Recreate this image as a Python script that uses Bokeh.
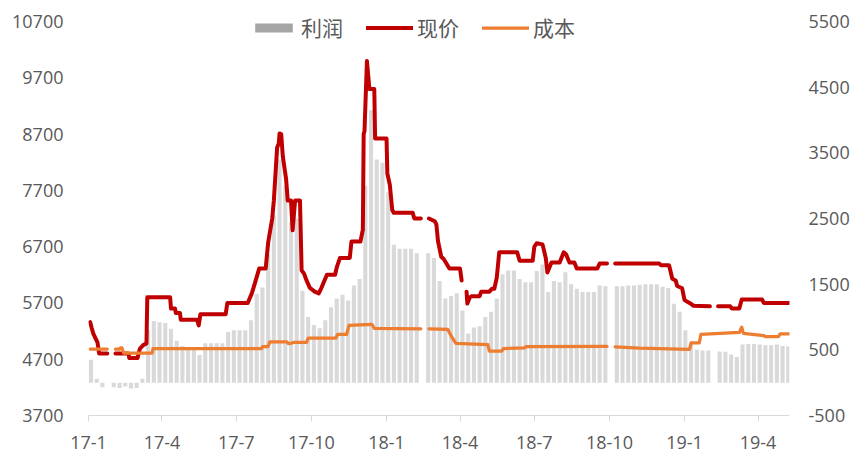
import numpy as np
import pandas as pd
from bokeh.plotting import figure
from bokeh.models import (Range1d, LinearAxis, FixedTicker, Legend, LegendItem,
                          ColumnDataSource)
from bokeh.embed import file_html
from bokeh.resources import INLINE

nan = float("nan")
ORIGIN = pd.Timestamp("2017-01-01")

# ---------------- data ----------------
tick_dates = ["2017-01-01", "2017-04-01", "2017-07-01", "2017-10-01", "2018-01-01",
              "2018-04-01", "2018-07-01", "2018-10-01", "2019-01-01", "2019-04-01"]
tick_labels = ["17-1", "17-4", "17-7", "17-10", "18-1", "18-4", "18-7", "18-10", "19-1", "19-4"]
left_ticks = [3700, 4700, 5700, 6700, 7700, 8700, 9700, 10700]
right_ticks = [-500, 500, 1500, 2500, 3500, 4500, 5500]

# 现价 (price), left axis
price_dates = [
    "2017-01-03", "2017-01-05", "2017-01-07", "2017-01-12", "2017-01-14", "2017-01-24", "2017-01-29",
    "2017-02-03", "2017-02-19", "2017-02-20", "2017-03-02", "2017-03-05", "2017-03-09", "2017-03-13",
    "2017-03-14", "2017-04-11", "2017-04-12", "2017-04-17", "2017-04-18", "2017-04-23", "2017-04-24",
    "2017-05-14", "2017-05-16", "2017-05-18", "2017-06-18", "2017-06-20", "2017-07-15", "2017-07-20",
    "2017-07-24", "2017-07-29", "2017-08-06", "2017-08-09", "2017-08-14", "2017-08-16", "2017-08-20",
    "2017-08-22", "2017-08-23", "2017-08-25", "2017-08-27", "2017-08-31", "2017-09-02", "2017-09-06",
    "2017-09-08", "2017-09-11", "2017-09-17", "2017-09-19", "2017-09-22", "2017-09-25", "2017-09-29",
    "2017-10-05", "2017-10-10", "2017-10-13", "2017-10-20", "2017-10-30", "2017-11-01", "2017-11-05",
    "2017-11-17", "2017-11-19", "2017-11-30", "2017-12-03", "2017-12-04", "2017-12-05", "2017-12-08",
    "2017-12-11", "2017-12-17", "2017-12-18", "2018-01-01", "2018-01-02", "2018-01-05", "2018-01-08",
    "2018-01-10", "2018-02-02", "2018-02-04", "2018-02-12", "2018-02-17", "2018-02-22", "2018-03-01",
    "2018-03-03", "2018-03-05", "2018-03-09", "2018-03-12", "2018-03-19", "2018-04-01", "2018-04-03",
    "2018-04-06", "2018-04-09", "2018-04-10", "2018-04-13", "2018-04-16", "2018-04-25", "2018-04-27",
    "2018-05-07", "2018-05-10", "2018-05-13", "2018-05-16", "2018-05-19", "2018-06-10", "2018-06-13",
    "2018-06-29", "2018-07-01", "2018-07-04", "2018-07-11", "2018-07-15", "2018-07-17", "2018-07-22",
    "2018-08-01", "2018-08-06", "2018-08-09", "2018-08-13", "2018-08-19", "2018-08-22", "2018-09-16",
    "2018-09-19", "2018-09-28", "2018-10-03", "2018-10-08", "2018-12-01", "2018-12-03", "2018-12-13",
    "2018-12-17", "2018-12-21", "2018-12-23", "2018-12-29", "2019-01-01", "2019-01-07", "2019-01-12",
    "2019-02-01", "2019-02-06", "2019-02-11", "2019-02-26", "2019-02-28", "2019-03-09", "2019-03-12",
    "2019-04-06", "2019-04-08", "2019-05-09"]
price_values = [
    5360, 5250, 5150, 5000, 4800, 4800, nan,
    4800, 4800, 4720, 4720, 4890, 4950, 4980,
    5800, 5800, 5600, 5600, 5520, 5520, 5400,
    5400, 5300, 5500, 5500, 5700, 5700, 5870,
    6060, 6310, 6310, 6770, 7200, 7520, 8460,
    8530, 8710, 8700, 8300, 7900, 7520, 7520,
    6990, 7520, 7520, 6280, 6220, 6100, 5970,
    5900, 5870, 5960, 6200, 6200, 6330, 6500,
    6500, 6790, 6790, 7000, 8700, 8750, 10000,
    9500, 9500, 8620, 8620, 8000, 7800, 7350,
    7300, 7300, 7200, 7200, nan, 7200, 7150,
    7100, 6800, 6520, 6480, 6310, 6310, 6100,
    nan, 5900, 5690, 5800, 5820, 5820, 5900,
    5900, 5950, 5950, 6150, 6600, 6600, 6450,
    6450, 6700, 6760, 6740, 6500, 6240, 6420,
    6420, 6600, 6560, 6420, 6420, 6310, 6310,
    6400, 6400, nan, 6400, 6400, 6370, 6370,
    6130, 6100, 6000, 5960, 5750, 5700, 5650,
    5640, nan, 5640, 5640, 5600, 5600, 5760,
    5760, 5700, 5700]

# 成本 (cost), left axis
cost_dates = [
    "2017-01-03", "2017-01-24", "2017-01-29", "2017-02-03", "2017-02-08", "2017-02-09", "2017-02-11",
    "2017-02-13", "2017-03-20", "2017-03-21", "2017-08-01", "2017-08-02", "2017-08-09", "2017-08-11",
    "2017-09-01", "2017-09-03", "2017-09-07", "2017-09-09", "2017-09-25", "2017-09-27", "2017-10-31",
    "2017-11-02", "2017-11-13", "2017-11-16", "2017-12-14", "2017-12-17", "2018-02-12", "2018-02-17",
    "2018-02-22", "2018-03-17", "2018-03-22", "2018-03-27", "2018-05-05", "2018-05-07", "2018-05-22",
    "2018-05-24", "2018-06-19", "2018-06-21", "2018-09-28", "2018-10-03", "2018-10-08", "2018-11-07",
    "2019-01-07", "2019-01-09", "2019-01-19", "2019-01-21", "2019-03-09", "2019-03-12", "2019-03-14",
    "2019-04-08", "2019-04-10", "2019-04-26", "2019-04-28", "2019-05-09"]
cost_values = [
    4880, 4880, nan, 4880, 4880, 4900, 4900,
    4810, 4810, 4890, 4890, 4925, 4925, 5010,
    5010, 4975, 4985, 5000, 5000, 5075, 5075,
    5140, 5140, 5300, 5320, 5250, 5240, nan,
    5240, 5230, 5090, 4980, 4960, 4845, 4845,
    4890, 4900, 4925, 4930, nan, 4920, 4895,
    4875, 4990, 4990, 5140, 5175, 5270, 5160,
    5120, 5100, 5100, 5150, 5150]

# 利润 (profit), right axis, one value per trading week
week_start = "2017-01-04"
profit_values = [
    350, 60, -70, nan, -70, -80, -60, -90, -80, 60,
    800, 940, 920, 910, 820, 640, 560, 520, 500, 420,
    600, 600, 600, 600, 770, 800, 800, 800, 950, 1350,
    1450, 1950, 2550, 3400, 3000, 2450, 2500, 1400, 1000, 880,
    830, 950, 1150, 1280, 1340, 1250, 1480, 1580, 3000, 4150,
    3400, 3350, 2900, 2100, 2040, 2040, 2040, 1970, nan, 1970,
    1900, 1550, 1280, 1320, 1360, 1100, 750, 840, 860, 1000,
    1080, 1280, 1650, 1710, 1710, 1580, 1530, 1530, 1700, 1800,
    1380, 1550, 1530, 1680, 1500, 1430, 1380, 1380, 1380, 1480,
    1470, nan, 1470, 1470, 1480, 1480, 1490, 1500, 1500, 1500,
    1460, 1440, 1200, 1080, 800, 620, 500, 490, 490, nan,
    475, 470, 430, 390, 580, 590, 590, 580, 570, 570,
    580, 560, 550]
x_end_date = "2019-05-09"


def days(ds):
    return [float((pd.Timestamp(d) - ORIGIN).days) for d in ds]


week_dates = pd.date_range(week_start, periods=len(profit_values), freq="7D")
week_x = [float((d - ORIGIN).days) for d in week_dates]

price_src = ColumnDataSource(dict(x=days(price_dates), y=price_values))
cost_src = ColumnDataSource(dict(x=days(cost_dates), y=cost_values))
bar_src = ColumnDataSource(dict(x=week_x, top=profit_values))

tick_x = [int(v) for v in days(tick_dates)]

# ---------------- figure ----------------
FONT = "Open Sans"
TXT = "#595959"

# the plot frame reaches 13 px above the top tick so the legend is not clipped
p = figure(width=852, height=454, output_backend="svg", toolbar_location=None,
           x_range=Range1d(0, days([x_end_date])[0] + 0.5),
           y_range=Range1d(3700, 10931),
           min_border_left=88, min_border_right=61, min_border_top=8, min_border_bottom=39)
p.extra_y_ranges = {"right": Range1d(-500, 5698)}
p.outline_line_color = None
p.xgrid.visible = False
p.ygrid.visible = False
p.background_fill_color = "white"
p.border_fill_color = "white"

bars = p.vbar(x="x", top="top", bottom=0, width=5, source=bar_src, y_range_name="right",
              fill_color="#d9d9d9", line_color=None)
legend_bar = p.vbar(x=[-100], top=[0], bottom=0, width=5, y_range_name="right",
                    fill_color="#a5a5a5", line_color=None)
price_line = p.line("x", "y", source=price_src, line_color="#C00000", line_width=4,
                    line_join="round", line_cap="round")
cost_line = p.line("x", "y", source=cost_src, line_color="#ED7D31", line_width=3.25,
                   line_join="round", line_cap="round")

# x axis
xa = p.xaxis[0]
xa.ticker = FixedTicker(ticks=tick_x)
xa.major_label_overrides = {t: l for t, l in zip(tick_x, tick_labels)}
xa.axis_line_color = "#d9d9d9"
xa.major_tick_line_color = "#d9d9d9"
xa.major_tick_out = 6
xa.major_tick_in = 0
xa.minor_tick_line_color = None
xa.major_label_standoff = 14
xa.major_label_text_font = FONT
xa.major_label_text_font_size = "18px"
xa.major_label_text_color = TXT

# left axis
ya = p.yaxis[0]
ya.ticker = FixedTicker(ticks=left_ticks)
ya.axis_line_color = None
ya.major_tick_line_color = None
ya.minor_tick_line_color = None
ya.major_tick_out = 0
ya.major_label_standoff = 25
ya.major_label_text_font = FONT
ya.major_label_text_font_size = "18px"
ya.major_label_text_color = TXT

# right axis
ra = LinearAxis(y_range_name="right", ticker=FixedTicker(ticks=right_ticks))
ra.major_label_overrides = {t: str(t) for t in right_ticks}
ra.axis_line_color = None
ra.major_tick_line_color = None
ra.minor_tick_line_color = None
ra.major_tick_out = 0
ra.major_label_standoff = 19
ra.major_label_text_font = FONT
ra.major_label_text_font_size = "18px"
ra.major_label_text_color = TXT
p.add_layout(ra, "right")

legend = Legend(items=[LegendItem(label="利润", renderers=[legend_bar]),
                       LegendItem(label="现价", renderers=[price_line]),
                       LegendItem(label="成本", renderers=[cost_line])],
                orientation="horizontal", location=(162, 373),
                glyph_width=47, glyph_height=11, label_standoff=4, spacing=23,
                padding=0, margin=0,
                label_text_font="Noto Sans CJK SC", label_text_font_size="21px",
                label_text_color=TXT,
                border_line_alpha=0, background_fill_alpha=0)
p.add_layout(legend)

open("out.html", "w").write(file_html(p, INLINE))
